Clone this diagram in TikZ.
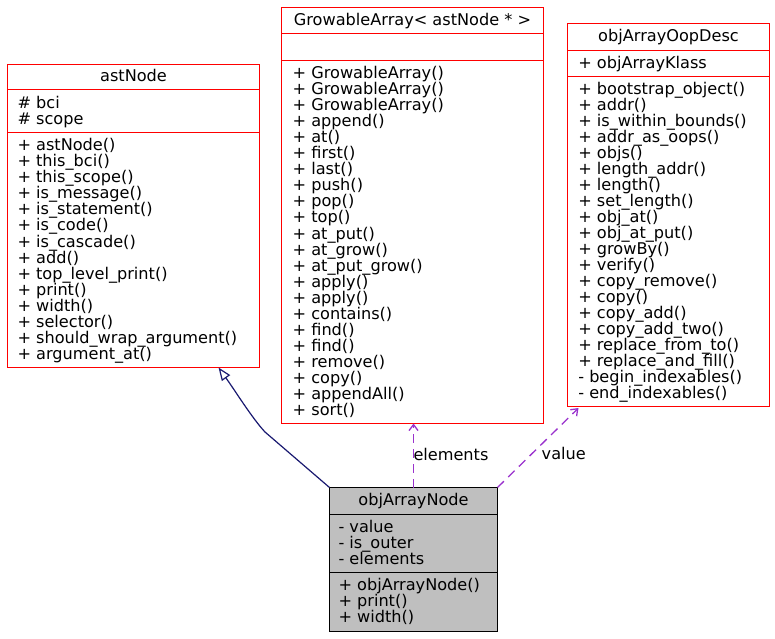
\documentclass[tikz,border=0pt]{standalone}
\usepackage{fontspec}
\setmainfont{DejaVu Sans}
\usetikzlibrary{arrows.meta,calc}
\definecolor{umlred}{HTML}{FF0000}
\definecolor{inhblue}{HTML}{191970}
\definecolor{depviolet}{HTML}{9A32CD}
\definecolor{nodegray}{HTML}{BFBFBF}
\newcommand\classlines[4]{\foreach \t [count=\i] in {#4} {\node[txt] (#1-\i) at (#2,{#3+(\i-1)*16}) {\t};}}
\tikzset{
  classbox/.style={draw=umlred, line width=1.5bp, inner sep=0pt, outer sep=0pt},
  mainbox/.style={draw=black, fill=nodegray, line width=1.2bp, inner sep=0pt, outer sep=0pt},
  divred/.style={draw=umlred, line width=1.5bp},
  divblack/.style={draw=black, line width=1.2bp},
  txt/.style={font=\fontsize{16.2}{16}\selectfont, inner sep=0pt, outer sep=0pt, anchor=base west},
  ttl/.style={font=\fontsize{16.2}{16}\selectfont, inner sep=0pt, outer sep=0pt, anchor=base},
  inherit/.style={draw=inhblue, line width=1.2bp, -{Triangle[open, length=13bp, width=10bp, line width=1.2bp]}},
  usedep/.style={draw=depviolet, line width=1.3bp, dash pattern=on 9bp off 6bp, -{Straight Barb[length=6bp, width=9bp, line width=1.3bp]}},
  lbl/.style={font=\fontsize{16.2}{16}\selectfont, inner sep=0pt, outer sep=0pt, anchor=base west}
}
\begin{document}
\begin{tikzpicture}[x=1bp, y=-1bp]
\useasboundingbox (0,0) rectangle (775,639);

% ---------- astNode ----------
\node[classbox, minimum width=252bp, minimum height=303bp] (astNode) at (133.5,216) {};
\draw[divred] (astNode.west |- 0,89.5) -- (astNode.east |- 0,89.5);
\draw[divred] (astNode.west |- 0,132.5) -- (astNode.east |- 0,132.5);
\node[ttl] (astNode-title) at (133.5,82) {astNode};
\classlines{astA}{17.5}{108.2}{\# bci,\# scope}
\classlines{astM}{17.5}{151}{+ astNode(),+ this\_bci(),+ this\_scope(),+ is\_message(),+ is\_statement(),+ is\_code(),+ is\_cascade(),+ add(),+ top\_level\_print(),+ print(),+ width(),+ selector(),+ should\_wrap\_argument(),+ argument\_at()}

% ---------- GrowableArray ----------
\node[classbox, minimum width=262bp, minimum height=416bp] (grow) at (412.5,215.5) {};
\draw[divred] (grow.west |- 0,33.5) -- (grow.east |- 0,33.5);
\draw[divred] (grow.west |- 0,60.5) -- (grow.east |- 0,60.5);
\node[ttl] (grow-title) at (412.5,25.3) {GrowableArray< astNode * >};
\classlines{growM}{292.7}{79}{+ GrowableArray(),+ GrowableArray(),+ GrowableArray(),+ append(),+ at(),+ first(),+ last(),+ push(),+ pop(),+ top(),+ at\_put(),+ at\_grow(),+ at\_put\_grow(),+ apply(),+ apply(),+ contains(),+ find(),+ find(),+ remove(),+ copy(),+ appendAll(),+ sort()}

% ---------- objArrayOopDesc ----------
\node[classbox, minimum width=202bp, minimum height=383bp] (oop) at (668.5,215) {};
\draw[divred] (oop.west |- 0,50.5) -- (oop.east |- 0,50.5);
\draw[divred] (oop.west |- 0,76.5) -- (oop.east |- 0,76.5);
\node[ttl] (oop-title) at (668.5,41.6) {objArrayOopDesc};
\classlines{oopA}{578.3}{68.3}{+ objArrayKlass}
\classlines{oopM}{578.3}{94.7}{+ bootstrap\_object(),+ addr(),+ is\_within\_bounds(),+ addr\_as\_oops(),+ objs(),+ length\_addr(),+ length(),+ set\_length(),+ obj\_at(),+ obj\_at\_put(),+ growBy(),+ verify(),+ copy\_remove(),+ copy(),+ copy\_add(),+ copy\_add\_two(),+ replace\_from\_to(),+ replace\_and\_fill(),- begin\_indexables(),- end\_indexables()}

% ---------- objArrayNode ----------
\node[mainbox, minimum width=168bp, minimum height=144bp] (objArrayNode) at (413.5,559.5) {};
\draw[divblack] (objArrayNode.west |- 0,514.5) -- (objArrayNode.east |- 0,514.5);
\draw[divblack] (objArrayNode.west |- 0,572.5) -- (objArrayNode.east |- 0,572.5);
\node[ttl] (objArrayNode-title) at (413.5,505.8) {objArrayNode};
\classlines{nodeA}{338.5}{532.3}{- value,- is\_outer,- elements}
\classlines{nodeM}{338.5}{590.6}{+ objArrayNode(),+ print(),+ width()}

% ---------- connectors ----------
\draw[inherit] (objArrayNode.north west) -- (265,432) .. controls (252,418) and (236,392) .. ($(astNode.south west)+(211,0)$);
\draw[usedep] (objArrayNode.north) -- (objArrayNode.north |- grow.south);
\node[lbl] (elements-lbl) at (413.5,460) {elements};
\draw[usedep] (objArrayNode.north east) -- ($(oop.south west)+(11,1.5)$);
\node[lbl] (value-lbl) at (541.7,459.3) {value};
\end{tikzpicture}
\end{document}
